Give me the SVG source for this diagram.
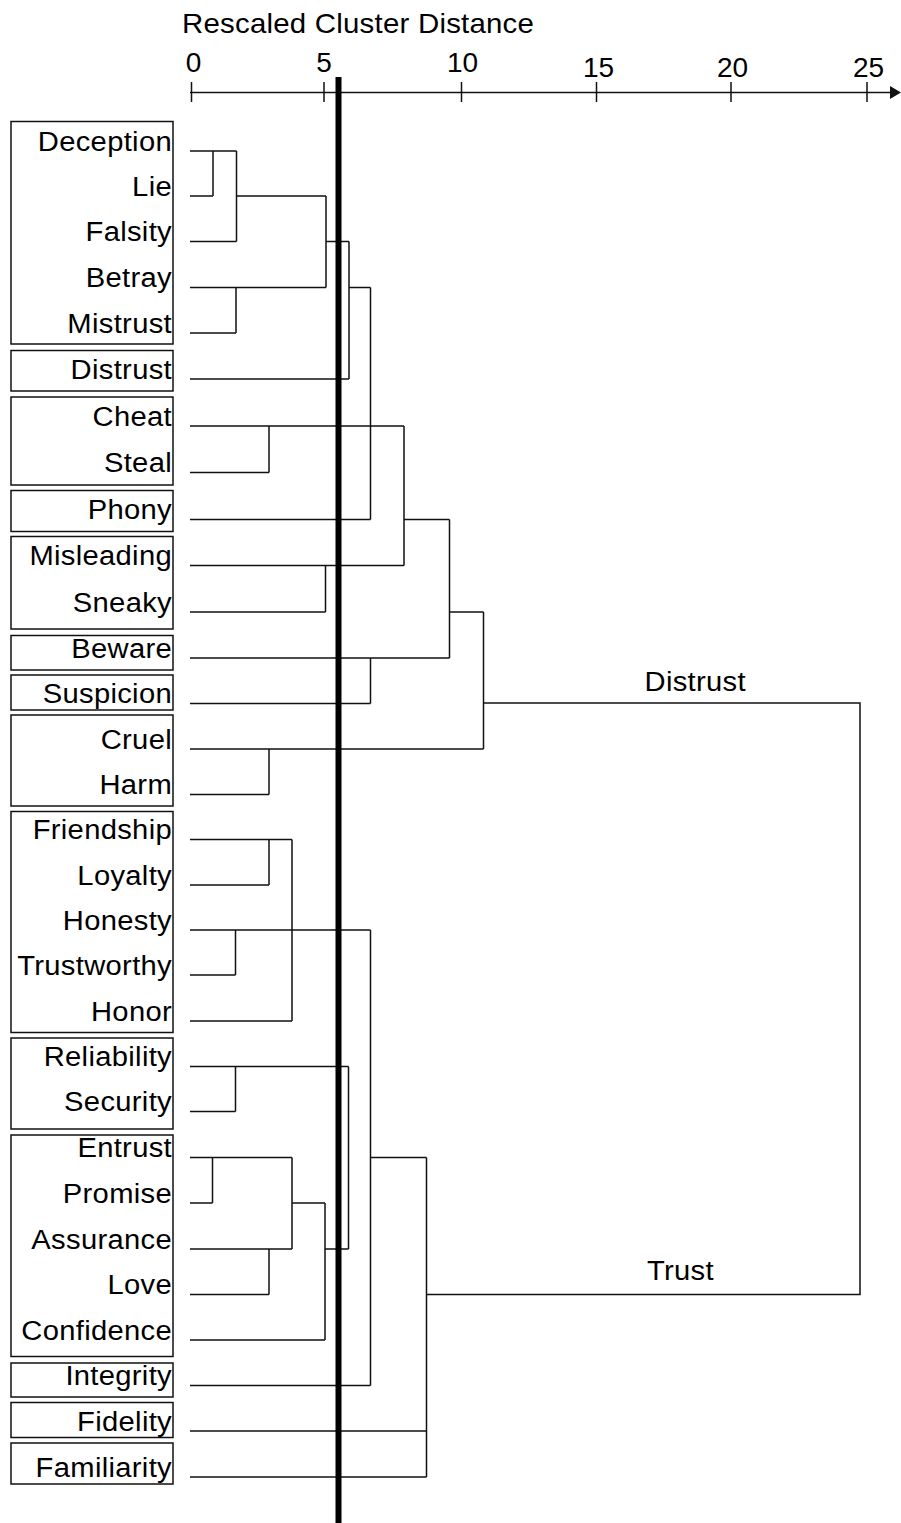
<svg xmlns="http://www.w3.org/2000/svg" width="901" height="1523" viewBox="0 0 901 1523">
  <style>
    text { font-family: "Liberation Sans", Arial, Helvetica, sans-serif; fill: #000; }
    .lbl { font-size: 27px; letter-spacing: 0.3px; text-anchor: end; }
    .title { font-size: 27px; letter-spacing: 0.2px; }
    .num { font-size: 28px; text-anchor: middle; }
    .clab { font-size: 27px; letter-spacing: 0.3px; }
    .box { fill: none; stroke: #111; stroke-width: 1.5; }
    .ln { fill: none; stroke: #111; stroke-width: 1.5; }
    .axis { fill: none; stroke: #111; stroke-width: 1.5; }
  </style>
  <rect width="901" height="1523" fill="#fff"/>

  <!-- distance scale -->
  <g id="axis">
    <g transform="translate(182 0) scale(1.09 1)">
      <text class="title" x="0" y="33.5">Rescaled Cluster Distance</text>
    </g>
    <path class="axis" d="M190,92.5 H892 M191.5,82 V102 M324,82 V102 M461.5,82 V102 M596.5,82 V102 M731,82 V102 M867,82 V102"/>
    <polygon points="890,86 901,92.5 890,99" fill="#111"/>
    <text class="num" x="193.5" y="72">0</text>
    <text class="num" x="324" y="72">5</text>
    <text class="num" x="462.5" y="72">10</text>
    <text class="num" x="598.5" y="77">15</text>
    <text class="num" x="732.5" y="77">20</text>
    <text class="num" x="868.5" y="77">25</text>
  </g>

  <!-- word groups: labels are right-aligned at x=172, drawn slightly wide -->
  <g id="group-deception">
    <rect class="box" x="11" y="121.5" width="162" height="222.5"/>
    <g transform="translate(172 0) scale(1.08 1)">
      <text class="lbl" x="0" y="151">Deception</text>
      <text class="lbl" x="0" y="196">Lie</text>
      <text class="lbl" x="0" y="241.5">Falsity</text>
      <text class="lbl" x="0" y="287.5">Betray</text>
      <text class="lbl" x="0" y="333">Mistrust</text>
    </g>
  </g>
  <g id="group-distrust">
    <rect class="box" x="11" y="350.5" width="162" height="40.5"/>
    <g transform="translate(172 0) scale(1.08 1)">
      <text class="lbl" x="0" y="379">Distrust</text>
    </g>
  </g>
  <g id="group-cheat">
    <rect class="box" x="11" y="397" width="162" height="88"/>
    <g transform="translate(172 0) scale(1.08 1)">
      <text class="lbl" x="0" y="426">Cheat</text>
      <text class="lbl" x="0" y="472.5">Steal</text>
    </g>
  </g>
  <g id="group-phony">
    <rect class="box" x="11" y="490.5" width="162" height="41"/>
    <g transform="translate(172 0) scale(1.08 1)">
      <text class="lbl" x="0" y="519.5">Phony</text>
    </g>
  </g>
  <g id="group-misleading">
    <rect class="box" x="11" y="536.5" width="162" height="92.5"/>
    <g transform="translate(172 0) scale(1.08 1)">
      <text class="lbl" x="0" y="565.5">Misleading</text>
      <text class="lbl" x="0" y="612">Sneaky</text>
    </g>
  </g>
  <g id="group-beware">
    <rect class="box" x="11" y="635.5" width="162" height="34.5"/>
    <g transform="translate(172 0) scale(1.08 1)">
      <text class="lbl" x="0" y="658">Beware</text>
    </g>
  </g>
  <g id="group-suspicion">
    <rect class="box" x="11" y="675" width="162" height="35"/>
    <g transform="translate(172 0) scale(1.08 1)">
      <text class="lbl" x="0" y="703.5">Suspicion</text>
    </g>
  </g>
  <g id="group-cruel">
    <rect class="box" x="11" y="715" width="162" height="91"/>
    <g transform="translate(172 0) scale(1.08 1)">
      <text class="lbl" x="0" y="749">Cruel</text>
      <text class="lbl" x="0" y="794.5">Harm</text>
    </g>
  </g>
  <g id="group-friendship">
    <rect class="box" x="11" y="811.5" width="162" height="221"/>
    <g transform="translate(172 0) scale(1.08 1)">
      <text class="lbl" x="0" y="839.5">Friendship</text>
      <text class="lbl" x="0" y="885">Loyalty</text>
      <text class="lbl" x="0" y="930">Honesty</text>
      <text class="lbl" x="0" y="975">Trustworthy</text>
      <text class="lbl" x="0" y="1021">Honor</text>
    </g>
  </g>
  <g id="group-reliability">
    <rect class="box" x="11" y="1038" width="162" height="91"/>
    <g transform="translate(172 0) scale(1.08 1)">
      <text class="lbl" x="0" y="1066.5">Reliability</text>
      <text class="lbl" x="0" y="1111.5">Security</text>
    </g>
  </g>
  <g id="group-entrust">
    <rect class="box" x="11" y="1135" width="162" height="221.5"/>
    <g transform="translate(172 0) scale(1.08 1)">
      <text class="lbl" x="0" y="1157.5">Entrust</text>
      <text class="lbl" x="0" y="1203">Promise</text>
      <text class="lbl" x="0" y="1249">Assurance</text>
      <text class="lbl" x="0" y="1294.5">Love</text>
      <text class="lbl" x="0" y="1340">Confidence</text>
    </g>
  </g>
  <g id="group-integrity">
    <rect class="box" x="11" y="1363" width="162" height="34"/>
    <g transform="translate(172 0) scale(1.08 1)">
      <text class="lbl" x="0" y="1385.5">Integrity</text>
    </g>
  </g>
  <g id="group-fidelity">
    <rect class="box" x="11" y="1402.5" width="162" height="35"/>
    <g transform="translate(172 0) scale(1.08 1)">
      <text class="lbl" x="0" y="1431">Fidelity</text>
    </g>
  </g>
  <g id="group-familiarity">
    <rect class="box" x="11" y="1443" width="162" height="41"/>
    <g transform="translate(172 0) scale(1.08 1)">
      <text class="lbl" x="0" y="1477">Familiarity</text>
    </g>
  </g>

  <!-- dendrogram links -->
  <g id="connectors">
    <!-- distrust branch -->
    <path class="ln" d="M190,151 H236.5 M213,151 V196 M190,196 H213 M236.5,151 V241.5 M190,241.5 H236.5 M236.5,196 H326"/>
    <path class="ln" d="M190,287.5 H326 M236,287.5 V333 M190,333 H236 M326,196 V287.5"/>
    <path class="ln" d="M326,241.5 H349 M349,241.5 V379 M190,379 H349 M349,287.5 H370.5 M370.5,287.5 V519.5 M190,519.5 H370.5"/>
    <path class="ln" d="M190,426 H404 M269,426 V472.5 M190,472.5 H269 M404,426 V565.5 M190,565.5 H404 M325.5,565.5 V612 M190,612 H325.5"/>
    <path class="ln" d="M404,519.5 H449.5 M449.5,519.5 V658 M190,658 H449.5 M449.5,612 H483.5 M483.5,612 V749"/>
    <path class="ln" d="M370.5,658 V703.5 M190,703.5 H370.5 M190,749 H483.5 M269,749 V794.5 M190,794.5 H269"/>
    <!-- trust branch -->
    <path class="ln" d="M190,839.5 H292 M269,839.5 V885 M190,885 H269 M292,839.5 V1021 M190,1021 H292"/>
    <path class="ln" d="M190,930 H370.5 M235.5,930 V975 M190,975 H235.5 M370.5,930 V1385.5 M190,1385.5 H370.5"/>
    <path class="ln" d="M190,1066.5 H348.5 M235.5,1066.5 V1111.5 M190,1111.5 H235.5 M348.5,1066.5 V1249"/>
    <path class="ln" d="M190,1157.5 H292 M212.5,1157.5 V1203 M190,1203 H212.5 M292,1157.5 V1249 M292,1203 H325 M325,1203 V1340"/>
    <path class="ln" d="M190,1249 H292 M325,1249 H348.5 M269,1249 V1294.5 M190,1294.5 H269 M190,1340 H325"/>
    <path class="ln" d="M370.5,1157.5 H426.5 M426.5,1157.5 V1477 M190,1431 H426.5 M190,1477 H426.5"/>
    <!-- root join -->
    <path class="ln" d="M483.5,703 H860 V1294.5 H426.5"/>
    <g transform="translate(644.5 0) scale(1.08 1)">
      <text class="clab" x="0" y="691.5">Distrust</text>
    </g>
    <g transform="translate(647 0) scale(1.08 1)">
      <text class="clab" x="0" y="1280">Trust</text>
    </g>
  </g>

  <!-- cut-off line -->
  <line x1="338.5" y1="77" x2="338.5" y2="1523" stroke="#000" stroke-width="6"/>
</svg>
